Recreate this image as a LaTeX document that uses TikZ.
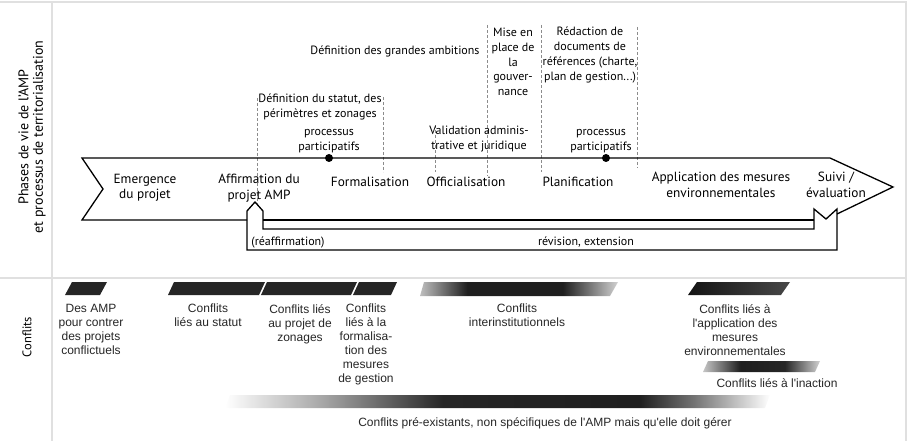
\documentclass[tikz,border=0pt]{standalone}
\usepackage{fontspec}
\setmainfont{PT Sans}
\newfontfamily\arialfont{Liberation Sans}
\usetikzlibrary{positioning}

\pgfdeclarehorizontalshading{interinst}{100bp}{color(0bp)=(black!25); color(25bp)=(black!25); color(37bp)=(black!88); color(61bp)=(black!88); color(75bp)=(black!18); color(100bp)=(black!18)}
\pgfdeclarehorizontalshading{inaction}{100bp}{color(0bp)=(black!22); color(25bp)=(black!22); color(41bp)=(black!88); color(60bp)=(black!85); color(75bp)=(black!18); color(100bp)=(black!18)}
\pgfdeclarehorizontalshading{preexist}{100bp}{color(0bp)=(white); color(25bp)=(white); color(34bp)=(black!35); color(45bp)=(black!85); color(63bp)=(black!88); color(68bp)=(black!55); color(75bp)=(white); color(100bp)=(white)}
\pgfdeclarehorizontalshading{appli}{100bp}{color(0bp)=(black!92); color(25bp)=(black!92); color(75bp)=(black!72); color(100bp)=(black!72)}

\tikzset{
  phase/.style={align=center, inner sep=0pt, font=\fontsize{13.3}{15.5}\selectfont},
  note/.style={align=center, inner sep=0pt, font=\fontsize{12}{14.8}\selectfont},
  conflit/.style={align=center, inner sep=0pt, anchor=north, font=\arialfont\fontsize{12}{14}\selectfont, text=black!85},
  titre/.style={align=center, inner sep=0pt, rotate=90, font=\fontsize{14}{14.5}\selectfont},
  limite/.style={densely dashed, black!45, line width=0.5pt},
  cadre/.style={black!12, line width=1.5pt},
  frise/.style={line width=1.3pt, line join=miter},
  barre/.style={fill=black!85, draw=none}
}

\begin{document}
\begin{tikzpicture}[x=1pt, y=-1pt]
  \useasboundingbox (0,0) rectangle (908,441);
  \draw[cadre] (0,2) -- (906,2) -- (906,441);
  \draw[cadre] (52,2) -- (52,441);
  \draw[cadre] (0,278) -- (906,278);

  \node[titre] (titre-phases) at (32,137) {Phases de vie de l'AMP\\et processus de territorialisation};
  \node[titre, font=\fontsize{12.5}{14}\selectfont] (titre-conflits) at (27,337) {Conflits};

  \draw[limite] (257,98) -- (257,205);
  \draw[limite] (383,97) -- (383,172);
  \draw[limite] (435,125) -- (435,172);
  \draw[limite] (487,25) -- (487,176);
  \draw[limite] (541,25) -- (541,172);
  \draw[limite] (637,27) -- (637,168);

  \draw[frise] (814,220) -- (263,220);
  \draw[frise] (247,220) -- (82,220) -- (103,189) -- (82,158) -- (830,158) -- (893,187) -- (837,214);
  \draw[frise] (263,229) -- (814,229) -- (814,209) -- (826,219) -- (837,209) -- (837,250)
    -- (247,250) -- (247,211) -- (255,202) -- (263,211) -- cycle;
  \fill (329,158) circle[radius=4pt];
  \fill (606,158) circle[radius=4pt];

  \node[phase] (emergence) at (145,188) {Emergence\\du projet};
  \node[phase] (affirmation) at (259,188) {Affirmation du\\projet AMP};
  \node[phase] (formalisation) at (370,182) {Formalisation};
  \node[phase] (officialisation) at (466,182) {Officialisation};
  \node[phase] (planification) at (578,182) {Planification};
  \node[phase] (application) at (721,185) {Application des mesures\\environnementales};
  \node[phase] (suivi) at (836,185) {Suivi /\\évaluation};

  \node[note] (statut) at (320,107) {Définition du statut, des\\périmètres et zonages};
  \node[note] (processusA) at (329,141) {processus\\participatifs};
  \node[note] (ambitions) at (395,51) {Définition des grandes ambitions};
  \node[note] (validation) at (479,139) {Validation adminis-\\trative et juridique};
  \node[note] (gouvernance) at (513,62) {Mise en\\place de\\la\\gouver-\\nance};
  \node[note] (redaction) at (590,55) {Rédaction de\\documents de\\références (charte,\\plan de gestion...)};
  \node[note] (processusB) at (601,141) {processus\\participatifs};
  \node[note] (reaffirmation) at (288,242) {(réaffirmation)};
  \node[note] (revision) at (586,242) {révision, extension};

  \fill[barre] (65,295) -- (72,282) -- (107,282) -- (100,295) -- cycle;
  \fill[barre] (168,295) -- (174,282) -- (265,282) -- (259,295) -- cycle;
  \fill[barre] (261,295) -- (267,282) -- (357,282) -- (351,295) -- cycle;
  \fill[barre] (353,295) -- (359,282) -- (397,282) -- (391,295) -- cycle;
  \shade[shading=interinst] (420,296) -- (424,282) -- (618,282) -- (610,296) -- cycle;
  \shade[shading=appli] (688,295) -- (697,282) -- (790,282) -- (781,295) -- cycle;
  \shade[shading=inaction] (703,372) -- (708,361) -- (820,361) -- (815,372) -- cycle;
  \shade[shading=preexist] (225,408) -- (230,395) -- (770,395) -- (765,408) -- cycle;

  \node[conflit] (c-amp) at (91,304) {Des AMP\\pour contrer\\des projets\\conflictuels};
  \node[conflit] (c-statut) at (208,304) {Conflits\\liés au statut};
  \node[conflit] (c-zonages) at (300,304) {Conflits liés\\au projet de\\zonages};
  \node[conflit] (c-formal) at (366,304) {Conflits\\liés à la\\formalisa-\\tion des\\mesures\\de gestion};
  \node[conflit] (c-inter) at (517,304) {Conflits\\interinstitutionnels};
  \node[conflit] (c-appli) at (735,304) {Conflits liés à\\l'application des\\mesures\\environnementales};
  \node[conflit] (c-inaction) at (777,378) {Conflits liés à l'inaction};
  \node[conflit] (c-preexist) at (545,417) {Conflits pré-existants, non spécifiques de l'AMP mais qu'elle doit gérer};
\end{tikzpicture}
\end{document}
